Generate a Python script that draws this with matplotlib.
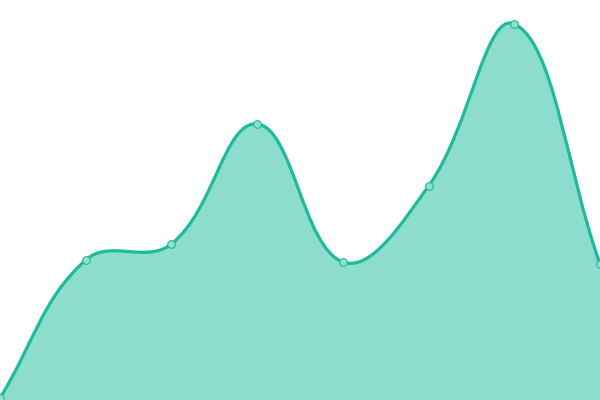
import matplotlib
matplotlib.use("Agg")
import matplotlib.pyplot as plt
from matplotlib.path import Path
from matplotlib.patches import PathPatch
import numpy as np

labels = ["A", "B", "C", "D", "E", "F", "G", "H"]
values = [2, 140, 156, 276, 138, 214, 376, 136]

LINE = "#1abc9c"
FILL = (26/255, 188/255, 156/255, 0.5)
MARKER_FACE = "#8fe0d0"
TENSION = 0.4

fig = plt.figure(figsize=(6, 4), dpi=100)
ax = fig.add_axes([0, 0, 1, 1])
ax.set_xlim(0, len(values) - 1)
ax.set_ylim(0, 400)
ax.axis("off")

xs = np.arange(len(values), dtype=float)
pts = ax.transData.transform(np.column_stack([xs, values]))

# Chart.js-style spline control points (computed in pixel space)
n = len(pts)
cp_prev = np.zeros_like(pts)
cp_next = np.zeros_like(pts)
for i in range(n):
    prev = pts[i - 1] if i > 0 else pts[i]
    cur = pts[i]
    nxt = pts[i + 1] if i < n - 1 else pts[i]
    d01 = np.hypot(*(cur - prev))
    d12 = np.hypot(*(nxt - cur))
    tot = d01 + d12
    s01 = d01 / tot if tot else 0
    s12 = d12 / tot if tot else 0
    fa = TENSION * s01
    fb = TENSION * s12
    cp_prev[i] = cur - fa * (nxt - prev)
    cp_next[i] = cur + fb * (nxt - prev)

verts = [pts[0]]
codes = [Path.MOVETO]
for i in range(n - 1):
    verts += [cp_next[i], cp_prev[i + 1], pts[i + 1]]
    codes += [Path.CURVE4] * 3

inv = ax.transData.inverted()
verts_data = inv.transform(np.array(verts))

line_path = Path(verts_data, codes)
fill_verts = list(verts_data) + [(xs[-1], 0), (xs[0], 0), verts_data[0]]
fill_codes = codes + [Path.LINETO, Path.LINETO, Path.CLOSEPOLY]
ax.add_patch(PathPatch(Path(fill_verts, fill_codes), facecolor=FILL, edgecolor="none"))
ax.add_patch(PathPatch(line_path, facecolor="none", edgecolor=LINE, linewidth=2.3))
ax.plot(xs, values, linestyle="none", marker="o", markersize=5.5,
        markerfacecolor=MARKER_FACE, markeredgecolor=LINE, markeredgewidth=0.8,
        clip_on=False, zorder=5)

fig.savefig("out.png", dpi=100)
